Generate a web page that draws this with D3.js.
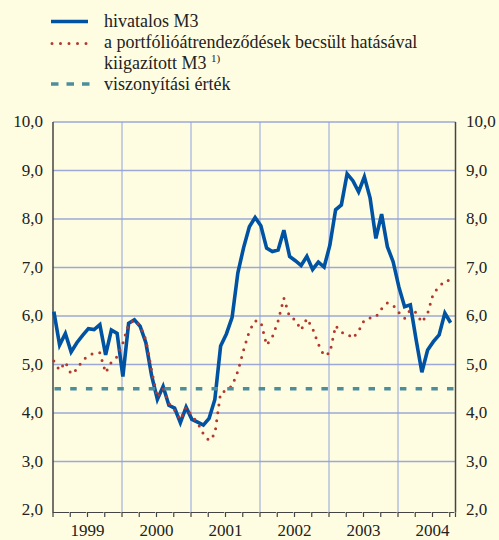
<!DOCTYPE html>
<html>
<head>
<meta charset="utf-8">
<script src="https://cdn.jsdelivr.net/npm/d3@7"></script>
<style>
  body { margin: 0; background: #fffde1; }
  svg text { font-family: "Liberation Serif", "DejaVu Serif", serif; }
</style>
</head>
<body>
<div id="chart"></div>
<script>
const width = 499;
const height = 540;
const serif = "'Liberation Serif', 'DejaVu Serif', serif";

// monthly data, Jan 1999 - Oct 2004
const years = ["1999", "2000", "2001", "2002", "2003", "2004"];
const yTicks = [2, 3, 4, 5, 6, 7, 8, 9, 10];
const official = [
    6.09, 5.40, 5.64, 5.26, 5.45, 5.60, 5.74, 5.72, 5.82, 5.20, 5.71, 5.64,
    4.75, 5.85, 5.92, 5.79, 5.45, 4.77, 4.28, 4.55, 4.16, 4.10, 3.80, 4.12,
    3.87, 3.81, 3.75, 3.89, 4.28, 5.38, 5.63, 5.97, 6.89, 7.41, 7.84, 8.03,
    7.86, 7.40, 7.33, 7.36, 7.77, 7.23, 7.14, 7.04, 7.23, 6.96, 7.11, 7.01,
    7.46, 8.19, 8.29, 8.93, 8.79, 8.56, 8.87, 8.43, 7.60, 8.10, 7.43, 7.12,
    6.60, 6.19, 6.23, 5.51, 4.84, 5.30, 5.47, 5.61, 6.06, 5.86
];
const adjusted = [
    5.07, 4.88, 5.05, 4.80, 4.90, 5.09, 5.18, 5.24, 5.24, 4.83, 5.05, 5.16,
    5.44, 5.84, 5.92, 5.80, 5.51, 4.88, 4.32, 4.50, 4.20, 4.06, 3.86, 4.12,
    3.94, 3.80, 3.57, 3.43, 3.57, 4.42, 4.46, 4.56, 4.86, 5.30, 5.69, 5.90,
    5.88, 5.40, 5.57, 5.90, 6.37, 5.98, 5.92, 5.71, 5.95, 5.74, 5.42, 5.18,
    5.24, 5.80, 5.66, 5.64, 5.54, 5.69, 5.92, 5.96, 5.98, 6.15, 6.27, 6.22,
    6.07, 5.95, 6.13, 6.07, 5.87, 6.05, 6.47, 6.60, 6.73, 6.73
];
const reference = 4.5;

const blue = "#0052a3";
const red = "#b3382e";
const teal = "#4c8e9c";

const svg = d3.select("#chart")
    .append("svg")
    .attr("width", width)
    .attr("height", height)
    .attr("font-family", serif)
    .style("display", "block");

svg.append("rect")
    .attr("width", width)
    .attr("height", height)
    .attr("fill", "#fffde1");

const x = d3.scaleLinear().domain([0, 70]).range([53, 455.5]);
const y = d3.scaleLinear().domain([2, 10]).range([510, 122]);
const px = i => x(i + 0.15);
const axisY = y(2) + 2.5;

// horizontal grid
svg.append("g")
    .selectAll("line")
    .data(yTicks.filter(d => d > 2))
    .enter()
    .append("line")
    .attr("x1", x(0))
    .attr("x2", x(70))
    .attr("y1", d => y(d))
    .attr("y2", d => y(d))
    .attr("stroke", "#9ca8d6")
    .attr("stroke-width", 1.5);

// vertical year lines
svg.append("g")
    .selectAll("line")
    .data(years.slice(1))
    .enter()
    .append("line")
    .attr("x1", (d, i) => x((i + 1) * 12))
    .attr("x2", (d, i) => x((i + 1) * 12))
    .attr("y1", y(10))
    .attr("y2", axisY)
    .attr("stroke", "#8fa1de")
    .attr("stroke-width", 1);

// axes lines
[x(0), x(70)].forEach(xx => {
    svg.append("line")
        .attr("x1", xx).attr("x2", xx)
        .attr("y1", y(10)).attr("y2", axisY)
        .attr("stroke", "#444")
        .attr("stroke-width", 1.5);
});

// bottom axis: quarter ticks
const quarters = d3.range(0, 70, 3);
svg.append("g")
    .selectAll("path")
    .data(quarters)
    .enter()
    .append("path")
    .attr("d", d => `M${x(d)},${axisY + 4.5}V${axisY}H${x(Math.min(d + 3, 70)) - 1.2}`)
    .attr("fill", "none")
    .attr("stroke", "#444")
    .attr("stroke-width", 1.2);
svg.append("line")
    .attr("x1", x(70)).attr("x2", x(70))
    .attr("y1", axisY).attr("y2", axisY + 4.5)
    .attr("stroke", "#444")
    .attr("stroke-width", 1.2);

// tick labels
const fmt = d => d3.format(".1f")(d).replace(".", ",");
svg.append("g")
    .selectAll("text")
    .data(yTicks)
    .enter()
    .append("text")
    .attr("x", 43)
    .attr("y", d => y(d) + 5)
    .attr("text-anchor", "end")
    .attr("font-family", serif)
    .attr("font-size", "17px")
    .attr("fill", "#222")
    .text(fmt);
svg.append("g")
    .selectAll("text")
    .data(yTicks)
    .enter()
    .append("text")
    .attr("x", 466)
    .attr("y", d => y(d) + 5)
    .attr("font-family", serif)
    .attr("font-size", "17px")
    .attr("fill", "#222")
    .text(fmt);
svg.append("g")
    .selectAll("text")
    .data(years)
    .enter()
    .append("text")
    .attr("x", (d, i) => x(i * 12 + 6))
    .attr("y", 536)
    .attr("text-anchor", "middle")
    .attr("font-family", serif)
    .attr("font-size", "17px")
    .attr("fill", "#222")
    .text(d => d);

// series
const line = d3.line().x((d, i) => px(i)).y(d => y(d));

svg.append("path")
    .datum(official)
    .attr("d", line)
    .attr("fill", "none")
    .attr("stroke", blue)
    .attr("stroke-width", 3.6);

svg.append("path")
    .datum(adjusted)
    .attr("d", line)
    .attr("fill", "none")
    .attr("stroke", red)
    .attr("stroke-width", 3)
    .attr("stroke-linecap", "round")
    .attr("stroke-dasharray", "0,8");

svg.append("line")
    .attr("x1", x(0) + 1.5)
    .attr("x2", x(70) - 1)
    .attr("y1", y(reference))
    .attr("y2", y(reference))
    .attr("stroke", teal)
    .attr("stroke-width", 3.3)
    .attr("stroke-dasharray", "6.5,9.2");

// legend
const legend = svg.append("g")
    .attr("font-family", serif)
    .attr("font-size", "18px")
    .attr("fill", "#222");
legend.append("line")
    .attr("x1", 51).attr("x2", 88).attr("y1", 21.5).attr("y2", 21.5)
    .attr("stroke", blue).attr("stroke-width", 3.6);
legend.append("line")
    .attr("x1", 52).attr("x2", 88).attr("y1", 43.5).attr("y2", 43.5)
    .attr("stroke", red).attr("stroke-width", 3)
    .attr("stroke-linecap", "round").attr("stroke-dasharray", "0,8.5");
legend.append("line")
    .attr("x1", 51).attr("x2", 90).attr("y1", 84).attr("y2", 84)
    .attr("stroke", teal).attr("stroke-width", 3.3)
    .attr("stroke-dasharray", "7.5,8");

legend.append("text").attr("x", 104).attr("y", 27).text("hivatalos M3");
legend.append("text").attr("x", 104).attr("y", 48).text("a portfólióátrendeződések becsült hatásával");
const t3 = legend.append("text").attr("x", 104).attr("y", 69);
t3.append("tspan").text("kiigazított M3 ");
t3.append("tspan").attr("font-size", "11px").attr("dy", -7).text("1)");
legend.append("text").attr("x", 104).attr("y", 90).text("viszonyítási érték");
</script>
</body>
</html>
